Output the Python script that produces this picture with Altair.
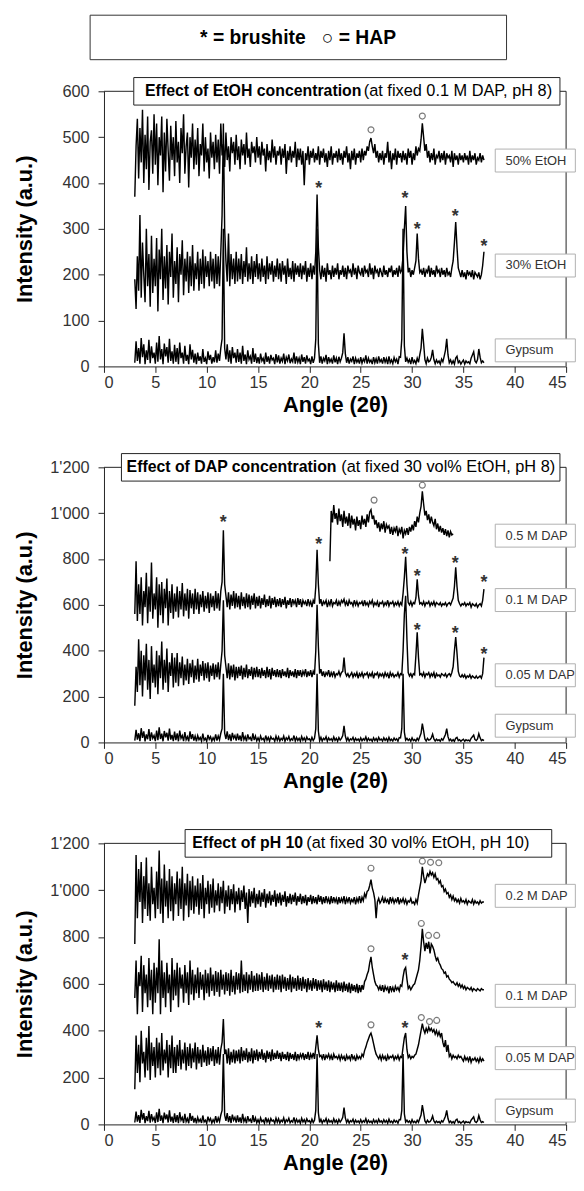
import altair as alt
import pandas as pd

# ---------------- data ----------------
ANGLE_STEP = 0.125  # 2-theta sampling step of the digitised patterns

GYPSUM = [
    8, 55, 12, 40, 6, 62, 20, 48, 5, 35, 14, 58, 7, 44, 18, 30,
    6, 52, 10, 66, 15, 38, 5, 50, 22, 42, 8, 60, 12, 33, 6, 47,
    10, 40, 5, 52, 18, 30, 6, 45, 12, 25, 5, 48, 15, 36, 8, 28,
    5, 30, 12, 22, 6, 38, 10, 18, 5, 33, 14, 25, 6, 20, 9, 35,
    8, 28, 12, 40, 60, 300, 40, 15, 48, 10, 35, 6, 42, 18, 30, 8,
    38, 10, 30, 6, 45, 12, 26, 5, 35, 15, 22, 6, 40, 10, 28, 7,
    20, 6, 28, 12, 18, 5, 30, 10, 22, 6, 25, 14, 18, 5, 27, 9,
    24, 6, 18, 11, 28, 5, 20, 12, 26, 7, 16, 10, 30, 6, 22, 9,
    18, 5, 26, 10, 20, 6, 24, 12, 16, 5, 22, 8, 18, 60, 300, 50,
    8, 22, 6, 18, 12, 25, 5, 20, 10, 16, 6, 24, 9, 18, 5, 21,
    10, 18, 30, 72, 28, 8, 20, 6, 16, 11, 22, 5, 18, 9, 15, 6,
    20, 7, 16, 10, 24, 6, 18, 9, 14, 5, 20, 8, 17, 6, 22, 10,
    15, 6, 20, 9, 17, 5, 22, 8, 14, 6, 19, 10, 16, 5, 21, 20,
    60, 300, 45, 10, 18, 9, 15, 5, 20, 8, 13, 6, 18, 9, 25, 40,
    82, 50, 15, 6, 18, 10, 12, 20, 36, 15, 6, 14, 8, 12, 5, 16,
    10, 22, 35, 60, 25, 8, 14, 6, 12, 5, 18, 22, 8, 12, 5, 10,
    14, 5, 12, 8, 10, 6, 18, 25, 32, 12, 8, 15, 38, 20, 8, 12,
    8]

ETOH50 = [
    370, 480, 540, 410, 520, 445, 560, 400, 505, 430, 545, 385, 490, 515, 420, 550,
    440, 530, 395, 500, 460, 545, 380, 510, 425, 540, 470, 405, 525, 450, 500, 415,
    535, 445, 490, 400, 520, 465, 550, 420, 480, 510, 390, 500, 455, 530, 430, 495,
    440, 520, 415, 485, 460, 530, 425, 500, 445, 475, 410, 510, 455, 490, 430, 505,
    445, 495, 420, 530, 460, 485, 435, 510, 450, 480, 425, 500, 465, 490, 440, 505,
    450, 480, 430, 495, 460, 485, 440, 510, 455, 475, 435, 490, 465, 480, 445, 500,
    455, 480, 440, 490, 460, 475, 425, 485, 450, 470, 445, 495, 455, 480, 440, 470,
    460, 480, 440, 475, 455, 485, 420, 470, 450, 480, 445, 470, 455, 490, 435, 475,
    450, 475, 440, 470, 395, 465, 450, 480, 440, 470, 455, 475, 445, 465, 450, 480,
    440, 470, 455, 475, 445, 465, 435, 470, 450, 480, 440, 465, 455, 470, 445, 475,
    450, 465, 440, 470, 455, 480, 445, 465, 430, 470, 450, 475, 440, 465, 455, 470,
    445, 475, 450, 470, 460, 480, 470, 490, 498, 480, 465, 485, 455, 470, 445, 465,
    450, 470, 440, 465, 455, 490, 445, 470, 430, 465, 450, 475, 440, 470, 455, 465,
    445, 470, 450, 465, 440, 475, 455, 470, 440, 465, 450, 480, 460, 475, 470, 495,
    530, 500, 470, 485, 455, 470, 445, 465, 450, 475, 440, 460, 455, 470, 445, 465,
    450, 470, 440, 465, 455, 460, 445, 470, 435, 465, 450, 460, 440, 465, 450, 460,
    445, 465, 450, 460, 440, 470, 445, 460, 450, 465, 440, 455, 450, 465, 445, 460,
    450]

ETOH30 = [
    190, 125, 240, 165, 330, 150, 270, 200, 140, 300, 175, 245, 130, 285, 160, 235,
    175, 280, 120, 255, 190, 300, 145, 240, 170, 265, 135, 250, 195, 290, 150, 230,
    180, 260, 140, 245, 200, 275, 155, 235, 185, 250, 160, 240, 175, 265, 165, 225,
    190, 250, 165, 235, 180, 255, 170, 240, 195, 230, 175, 250, 185, 235, 170, 245,
    180, 240, 175, 250, 330, 530, 300, 230, 185, 290, 175, 245, 190, 235, 180, 250,
    185, 235, 190, 245, 180, 230, 195, 260, 185, 225, 190, 240, 180, 230, 195, 245,
    190, 225, 185, 235, 195, 220, 180, 240, 190, 225, 200, 230, 185, 220, 195, 235,
    190, 225, 185, 230, 200, 220, 180, 235, 195, 215, 190, 230, 185, 225, 200, 220,
    195, 225, 190, 220, 200, 230, 185, 215, 195, 225, 190, 220, 200, 250, 375, 260,
    210, 190, 220, 195, 215, 185, 225, 200, 210, 190, 220, 195, 215, 200, 225, 190,
    210, 200, 220, 195, 215, 190, 220, 205, 210, 195, 225, 200, 215, 190, 220, 205,
    200, 215, 195, 220, 205, 210, 195, 225, 200, 215, 190, 220, 205, 210, 195, 215,
    205, 195, 220, 200, 210, 195, 215, 205, 220, 195, 210, 200, 215, 195, 220, 205,
    210, 240, 300, 350, 250, 205, 215, 195, 210, 200, 215, 230, 290, 235, 205, 210,
    200, 215, 195, 210, 205, 220, 195, 215, 200, 210, 195, 220, 205, 210, 195, 215,
    200, 210, 195, 215, 200, 205, 195, 215, 230, 270, 315, 260, 215, 205, 195, 210,
    195, 205, 190, 210, 200, 205, 195, 210, 190, 205, 200, 195, 205, 190, 200, 220,
    250]

DAP05_START = 22.0
DAP05 = [
    790, 1010, 960, 1035, 975, 1000, 950, 1020, 965, 995, 940, 1010, 955, 985, 945, 1000,
    935, 990, 950, 975, 925, 985, 945, 970, 930, 990, 950, 975, 940, 995, 960, 1005,
    1015, 975, 990, 950, 970, 935, 960, 920, 955, 930, 965, 915, 950, 935, 945, 910,
    940, 905, 935, 920, 945, 900, 930, 915, 940, 890, 925, 910, 935, 905, 940, 920,
    950, 925, 965, 940, 985, 960, 1000, 1030, 1095, 1040, 990, 1010, 970, 995, 955, 985,
    960, 945, 975, 930, 955, 920, 945, 915, 935, 905, 930, 900, 925, 895, 920, 905,
    910]

DAP01 = [
    560, 790, 530, 690, 560, 720, 510, 660, 590, 740, 520, 680, 570, 785, 540, 650,
    580, 720, 500, 690, 555, 700, 520, 670, 585, 715, 510, 660, 565, 690, 540, 650,
    570, 680, 545, 660, 580, 695, 550, 650, 575, 670, 540, 665, 585, 650, 560, 670,
    580, 655, 560, 645, 590, 660, 570, 640, 585, 655, 565, 650, 590, 640, 575, 660,
    585, 650, 575, 660, 700, 925, 690, 640, 590, 655, 580, 645, 595, 660, 585, 650,
    590, 640, 580, 655, 595, 635, 585, 650, 590, 645, 580, 640, 600, 650, 585, 635,
    595, 640, 585, 630, 600, 645, 590, 625, 595, 640, 585, 630, 600, 635, 590, 625,
    595, 630, 590, 625, 600, 635, 585, 620, 600, 630, 590, 625, 605, 620, 590, 630,
    600, 625, 590, 620, 605, 615, 595, 625, 600, 615, 590, 620, 605, 680, 840, 690,
    605, 625, 595, 615, 605, 620, 590, 615, 600, 625, 595, 610, 605, 620, 595, 615,
    600, 620, 610, 625, 600, 615, 595, 620, 605, 610, 595, 620, 600, 615, 595, 610,
    605, 615, 595, 620, 600, 610, 595, 615, 605, 620, 595, 610, 600, 615, 590, 610,
    605, 615, 595, 610, 600, 620, 595, 610, 605, 615, 595, 610, 600, 615, 595, 610,
    600, 650, 720, 810, 690, 610, 600, 615, 595, 610, 605, 630, 712, 640, 605, 610,
    600, 615, 595, 610, 605, 615, 595, 610, 600, 615, 595, 610, 605, 600, 610, 595,
    605, 600, 610, 595, 605, 610, 600, 615, 630, 680, 764, 680, 620, 605, 595, 605,
    600, 610, 595, 605, 600, 610, 590, 605, 600, 595, 605, 590, 600, 605, 595, 620,
    669]

DAP005 = [
    160, 330, 220, 450, 250, 400, 200, 380, 270, 430, 230, 360, 190, 420, 260, 340,
    240, 400, 210, 380, 280, 440, 230, 360, 260, 410, 220, 350, 290, 390, 240, 370,
    260, 390, 245, 350, 280, 375, 250, 340, 270, 365, 255, 345, 285, 360, 260, 335,
    275, 365, 265, 340, 290, 355, 270, 345, 280, 350, 265, 335, 290, 345, 275, 340,
    285, 350, 275, 340, 400, 620, 380, 330, 280, 345, 275, 335, 285, 340, 270, 330,
    280, 330, 290, 335, 275, 325, 285, 340, 280, 320, 290, 330, 275, 325, 285, 330,
    285, 320, 280, 325, 290, 315, 280, 330, 285, 320, 275, 325, 290, 315, 285, 320,
    285, 315, 280, 320, 290, 310, 285, 325, 280, 315, 290, 310, 285, 320, 280, 315,
    290, 315, 285, 310, 295, 320, 285, 310, 290, 315, 285, 310, 295, 400, 600, 420,
    300, 320, 290, 310, 285, 305, 295, 315, 285, 305, 290, 310, 285, 300, 295, 310,
    290, 305, 310, 370, 305, 290, 300, 285, 295, 305, 285, 300, 290, 305, 280, 300,
    290, 305, 285, 300, 295, 305, 285, 300, 290, 305, 280, 300, 295, 305, 285, 300,
    290, 300, 285, 305, 290, 300, 280, 305, 290, 300, 285, 295, 290, 305, 285, 300,
    295, 400, 560, 640, 450, 305, 290, 300, 285, 300, 295, 380, 480, 370, 295, 300,
    290, 305, 285, 300, 295, 305, 285, 300, 290, 305, 280, 300, 290, 295, 285, 300,
    295, 290, 300, 285, 295, 300, 290, 305, 330, 400, 460, 390, 310, 290, 285, 295,
    285, 295, 280, 290, 285, 295, 280, 290, 285, 280, 290, 280, 285, 290, 280, 300,
    370]

PH10_02 = [
    770, 1150, 880, 1090, 950, 1120, 860, 1060, 920, 1140, 890, 1030, 870, 1100, 940, 1010,
    880, 1080, 920, 1170, 900, 1050, 860, 1110, 930, 1040, 880, 1090, 910, 1060, 870, 1030,
    940, 1080, 890, 1050, 920, 1100, 870, 1030, 935, 1070, 885, 1040, 915, 1060, 900, 1020,
    930, 1050, 895, 1030, 920, 1065, 880, 1010, 940, 1040, 900, 1025, 925, 1050, 905, 1000,
    935, 1030, 910, 1015, 945, 1040, 900, 1000, 930, 1020, 915, 1005, 940, 1025, 905, 995,
    940, 1010, 915, 1000, 950, 1020, 920, 990, 860, 1005, 930, 995, 945, 1010, 925, 985,
    940, 1000, 930, 990, 950, 1005, 925, 985, 945, 995, 935, 980, 950, 1000, 930, 985,
    945, 990, 935, 980, 950, 995, 930, 975, 945, 985, 940, 980, 950, 990, 935, 975,
    950, 985, 940, 975, 945, 980, 935, 970, 950, 980, 940, 975, 945, 970, 940, 980,
    950, 975, 940, 970, 945, 975, 950, 965, 940, 975, 945, 970, 950, 965, 940, 970,
    945, 965, 950, 975, 940, 965, 950, 970, 945, 960, 950, 970, 940, 965, 950, 975,
    945, 970, 955, 985, 970, 995, 1000, 1020, 1045, 1010, 990, 960, 880, 950, 965, 945,
    955, 970, 945, 965, 950, 960, 940, 970, 950, 965, 945, 960, 950, 970, 940, 960,
    950, 965, 945, 960, 940, 955, 950, 965, 945, 950, 940, 960, 945, 980, 1010, 1040,
    1100, 1060, 1030, 1050, 1070, 1060, 1080, 1065, 1075, 1055, 1070, 1045, 1050, 1030, 1040, 1015,
    1020, 995, 1005, 985, 990, 970, 980, 960, 975, 955, 965, 950, 960, 945, 965, 950,
    955, 945, 960, 940, 955, 950, 945, 960, 940, 955, 945, 950, 940, 955, 945, 950,
    950]

PH10_01 = [
    540, 700, 470, 650, 590, 720, 480, 680, 560, 640, 500, 710, 530, 660, 470, 690,
    520, 670, 560, 790, 470, 700, 540, 650, 500, 690, 560, 640, 480, 710, 530, 660,
    550, 690, 500, 670, 580, 640, 520, 680, 560, 650, 510, 700, 555, 660, 530, 640,
    560, 670, 540, 650, 575, 640, 530, 660, 560, 645, 545, 670, 570, 640, 550, 655,
    565, 650, 545, 660, 575, 640, 555, 650, 570, 645, 550, 660, 565, 635, 555, 650,
    575, 645, 560, 700, 565, 640, 570, 650, 560, 640, 575, 655, 565, 635, 570, 645,
    570, 640, 575, 650, 565, 630, 575, 645, 570, 635, 580, 640, 565, 630, 575, 640,
    575, 635, 565, 640, 580, 630, 570, 625, 575, 640, 565, 630, 580, 625, 570, 635,
    575, 625, 570, 630, 580, 620, 565, 625, 575, 615, 570, 625, 580, 620, 570, 615,
    575, 615, 565, 620, 575, 610, 570, 615, 565, 610, 575, 605, 565, 615, 570, 605,
    570, 605, 565, 610, 570, 600, 565, 605, 560, 600, 570, 595, 565, 600, 560, 595,
    565, 595, 575, 610, 620, 640, 655, 690, 715, 670, 640, 610, 595, 590, 575, 590,
    570, 595, 565, 590, 575, 585, 560, 590, 570, 585, 565, 590, 575, 585, 570, 595,
    590, 630, 660, 670, 620, 580, 590, 575, 585, 595, 600, 620, 640, 660, 700, 760,
    835, 780, 740, 775, 750, 780, 730, 770, 760, 745, 720, 700, 710, 690, 680, 665,
    660, 645, 650, 630, 635, 620, 615, 605, 610, 600, 595, 605, 590, 600, 585, 595,
    580, 590, 575, 585, 580, 575, 585, 570, 580, 575, 570, 580, 575, 570, 580, 575,
    575]

PH10_005 = [
    150, 380, 220, 340, 180, 400, 260, 310, 200, 370, 230, 420, 190, 350, 250, 330,
    200, 370, 240, 350, 210, 390, 230, 320, 260, 360, 200, 340, 240, 380, 220, 330,
    220, 340, 250, 360, 235, 320, 260, 350, 230, 330, 250, 345, 240, 325, 265, 350,
    235, 330, 260, 320, 245, 340, 265, 315, 250, 330, 255, 325, 270, 335, 250, 320,
    260, 330, 255, 320, 350, 450, 300, 320, 260, 325, 255, 310, 265, 320, 260, 315,
    270, 320, 260, 330, 270, 315, 275, 325, 265, 310, 270, 325, 260, 315, 275, 320,
    270, 310, 280, 320, 275, 305, 265, 315, 280, 310, 270, 320, 275, 305, 280, 315,
    280, 305, 270, 310, 280, 300, 275, 310, 270, 305, 280, 300, 275, 310, 270, 300,
    280, 300, 285, 305, 275, 300, 280, 310, 275, 300, 285, 305, 280, 330, 380, 320,
    290, 295, 280, 300, 275, 295, 285, 300, 280, 295, 275, 300, 285, 290, 280, 295,
    275, 295, 280, 290, 270, 295, 280, 290, 275, 300, 280, 290, 270, 295, 280, 290,
    280, 300, 290, 315, 330, 350, 365, 380, 390, 370, 345, 320, 300, 290, 280, 295,
    275, 295, 280, 290, 270, 295, 280, 290, 285, 295, 275, 290, 280, 295, 275, 290,
    285, 330, 370, 390, 320, 285, 295, 280, 290, 285, 295, 300, 320, 340, 370, 400,
    430, 405, 390, 410, 395, 415, 400, 410, 395, 405, 385, 400, 380, 395, 375, 390,
    350, 330, 360, 310, 340, 290, 300, 280, 295, 285, 290, 280, 295, 285, 290, 280,
    270, 290, 275, 285, 270, 290, 265, 280, 275, 285, 270, 280, 265, 285, 270, 280,
    270]

# series labels (text, intensity at which the label box sits)
P1_LABELS = ["50% EtOH", "30% EtOH", "Gypsum"]
P1_LABEL_Y = [449, 220, 35]
P2_LABELS = ["0.5 M DAP", "0.1 M DAP", "0.05 M DAP", "Gypsum"]
P2_LABEL_Y = [902, 621, 293, 73]
P3_LABELS = ["0.2 M DAP", "0.1 M DAP", "0.05 M DAP", "Gypsum"]
P3_LABEL_Y = [976, 549, 283, 59]

# peak markers: brushite (*) and HAP (o)
P1_STAR_X = [20.9, 29.3, 30.5, 34.2, 37.0]
P1_STAR_Y = [395, 373, 306, 335, 270]
P1_HAP_X = [26.0, 31.0]
P1_HAP_Y = [516, 546]
P2_STAR_X = [11.6, 20.9, 29.3, 30.5, 34.2, 37.0, 30.5, 34.2, 37.0]
P2_STAR_Y = [975, 880, 833, 738, 794, 712, 505, 488, 397]
P2_HAP_X = [26.3, 31.0]
P2_HAP_Y = [1057, 1122]
P3_STAR_X = [29.3, 20.9, 29.3]
P3_STAR_Y = [715, 425, 425]
P3_HAP_X = [26.0, 31.0, 31.8, 32.6, 30.9, 31.6, 32.4, 26.0, 30.9, 31.7, 32.4, 26.0]
P3_HAP_Y = [1094, 1124, 1119, 1117, 858, 807, 807, 750, 456, 439, 444, 425]

TITLES = [
    ("Effect of EtOH concentration", "(at fixed 0.1 M DAP, pH 8)"),
    ("Effect of DAP concentration", "(at fixed 30 vol% EtOH, pH 8)"),
    ("Effect of pH 10", "(at fixed 30 vol% EtOH, pH 10)"),
]
LEGEND_TEXT = "*\u00a0= brushite\u00a0\u00a0\u00a0\u25cb = HAP"

FONT = "Liberation Sans"


def series_frame(items):
    rows = []
    for name, values, start in items:
        for i, v in enumerate(values):
            rows.append({"series": name, "angle": start + ANGLE_STEP * i, "intensity": v})
    return pd.DataFrame(rows)


def panel(items, ymax, ystep, height, labels, label_y, label_half,
          star_x, star_y, hap_x, hap_y, title, tbox, title_x, reg_x, title_half,
          legend=None):
    x_enc = alt.X("angle:Q", scale=alt.Scale(domain=[0, 45], nice=False, zero=False),
                  axis=alt.Axis(values=list(range(0, 46, 5)), title="Angle (2\u03b8)"))
    y_enc = alt.Y("intensity:Q", scale=alt.Scale(domain=[0, ymax], nice=False),
                  axis=alt.Axis(values=list(range(0, ymax + 1, ystep)),
                                title="Intensity (a.u.)",
                                labelExpr="replace(format(datum.value, ','), ',', \"'\")"))

    lines = alt.Chart(series_frame(items)).mark_line(
        color="black", strokeWidth=1.45, clip=False
    ).encode(x=x_enc, y=y_enc, detail="series:N")

    # frame: top line (interrupted by title box) and right border
    frame_df = pd.DataFrame({
        "angle": [0, tbox[1], 45],
        "angle2": [tbox[0], 45, 45],
        "intensity": [ymax, ymax, 0],
        "intensity2": [ymax, ymax, ymax],
    })
    frame = alt.Chart(frame_df).mark_rule(color="#222", strokeWidth=1).encode(
        x="angle:Q", x2="angle2:Q", y="intensity:Q", y2="intensity2:Q")

    tb_df = pd.DataFrame({"angle": [tbox[0]], "angle2": [tbox[1]],
                          "intensity": [ymax - title_half], "intensity2": [ymax + title_half]})
    tbox_mark = alt.Chart(tb_df).mark_rect(fill="white", stroke="#222", strokeWidth=1,
                                           clip=False).encode(
        x="angle:Q", x2="angle2:Q", y="intensity:Q", y2="intensity2:Q")
    t_bold = alt.Chart(pd.DataFrame({"angle": [title_x], "intensity": [ymax], "t": [title[0]]})).mark_text(
        align="left", baseline="middle", font=FONT, fontSize=16, fontWeight="bold",
        color="black").encode(x="angle:Q", y="intensity:Q", text="t:N")
    t_reg = alt.Chart(pd.DataFrame({"angle": [reg_x], "intensity": [ymax], "t": [title[1]]})).mark_text(
        align="left", baseline="middle", font=FONT, fontSize=16.5, color="black").encode(
        x="angle:Q", y="intensity:Q", text="t:N")

    lab_df = pd.DataFrame({"t": labels, "mid": label_y})
    lab_base = alt.Chart(lab_df).transform_calculate(
        lo=alt.datum.mid - label_half, hi=alt.datum.mid + label_half,
        a0="38.1", a1="45.9", at="39.1")
    lab_box = lab_base.mark_rect(fill="white", stroke="#b0b0b0", strokeWidth=1, clip=False).encode(
        x="a0:Q", x2="a1:Q", y=alt.Y("lo:Q"), y2="hi:Q")
    lab_txt = lab_base.mark_text(align="left", baseline="middle", font=FONT, fontSize=13,
                                 color="#333").encode(x="at:Q", y="mid:Q", text="t:N")

    stars = alt.Chart(pd.DataFrame({"angle": star_x, "intensity": star_y})).mark_text(
        text="*", font=FONT, fontSize=18, fontWeight="bold", color="#333",
        baseline="alphabetic", dy=9).encode(x="angle:Q", y="intensity:Q")
    haps = alt.Chart(pd.DataFrame({"angle": hap_x, "intensity": hap_y})).mark_point(
        shape="circle", filled=False, size=36, color="#444", strokeWidth=1.2).encode(
        x="angle:Q", y="intensity:Q")

    layers = [lines, frame, tbox_mark, t_bold, t_reg, lab_box, lab_txt, stars, haps]
    if legend is not None:
        layers += legend
    return alt.layer(*layers).properties(width=467, height=height)


# legend box above the first panel (in panel-1 data space)
leg_df = pd.DataFrame({"angle": [-1.35], "angle2": [39.2], "intensity": [669], "intensity2": [766]})
legend_box = alt.Chart(leg_df).mark_rect(fill="white", stroke="#333", strokeWidth=1, clip=False).encode(
    x="angle:Q", x2="angle2:Q", y="intensity:Q", y2="intensity2:Q")
legend_txt = alt.Chart(pd.DataFrame({"angle": [18.9], "intensity": [717], "t": [LEGEND_TEXT]})).mark_text(
    align="center", baseline="middle", font=FONT, fontSize=19.5, fontWeight="bold", color="black").encode(
    x="angle:Q", y="intensity:Q", text="t:N")

p1 = panel([("50% EtOH", ETOH50, 3.0), ("30% EtOH", ETOH30, 3.0), ("Gypsum", GYPSUM, 3.0)],
           600, 100, 278, P1_LABELS, P1_LABEL_Y, 25,
           P1_STAR_X, P1_STAR_Y, P1_HAP_X, P1_HAP_Y,
           TITLES[0], (2.9, 44.4), 4.0, 25.3, 30,
           legend=[legend_box, legend_txt])
p2 = panel([("0.5 M DAP", DAP05, DAP05_START), ("0.1 M DAP", DAP01, 3.0),
            ("0.05 M DAP", DAP005, 3.0), ("Gypsum", GYPSUM, 3.0)],
           1200, 200, 278, P2_LABELS, P2_LABEL_Y, 50,
           P2_STAR_X, P2_STAR_Y, P2_HAP_X, P2_HAP_Y,
           TITLES[1], (1.7, 44.4), 2.2, 23.1, 60)
p3 = panel([("0.2 M DAP", PH10_02, 3.0), ("0.1 M DAP", PH10_01, 3.0),
            ("0.05 M DAP", PH10_005, 3.0), ("Gypsum", GYPSUM, 3.0)],
           1200, 200, 284, P3_LABELS, P3_LABEL_Y, 49,
           P3_STAR_X, P3_STAR_Y, P3_HAP_X, P3_HAP_Y,
           TITLES[2], (7.9, 43.6), 8.6, 19.7, 59)

chart = alt.vconcat(p1, p2, p3, spacing=102, bounds="flush").properties(
    padding={"left": 6, "top": 0, "right": 0, "bottom": 0}
).configure_view(stroke=None).configure_axis(
    grid=False, domainColor="#222", domainWidth=1, tickColor="#222", tickSize=6,
    labelFont=FONT, labelFontSize=16.5, labelColor="#333",
    titleFont=FONT, titleFontSize=22, titleFontWeight="bold", titleColor="black"
).configure_axisX(labelPadding=2, titlePadding=4).configure_axisY(
    labelPadding=9, titleX=-80, titleAngle=270, titleAlign="center", titleBaseline="middle"
)

chart.save("out.html", embed_options={"renderer": "svg", "actions": False})
